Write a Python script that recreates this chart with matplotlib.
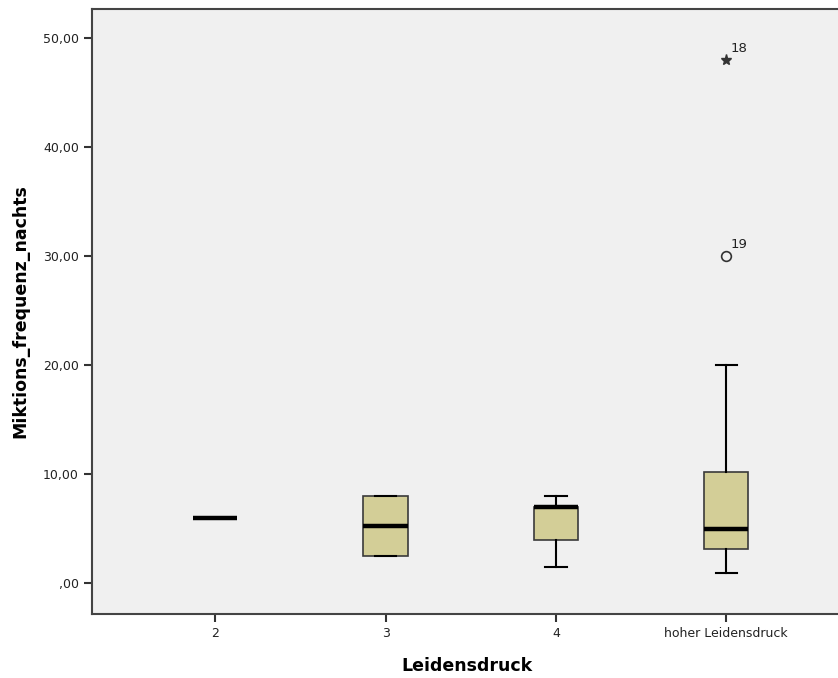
import matplotlib
matplotlib.use('Agg')
import matplotlib.pyplot as plt

# Kennwerte je Gruppe
gruppen = ['2', '3', '4', 'hoher Leidensdruck']
median = [6.0, 5.25, 7.0, 5.0]
q1 = [6.0, 2.5, 4.0, 3.2]
q3 = [6.0, 8.0, 7.0, 10.25]
whisker_unten = [6.0, 2.5, 1.5, 1.0]
whisker_oben = [6.0, 8.0, 8.0, 20.0]

# Ausreißer (Gruppe 4: hoher Leidensdruck)
ausreisser_gruppe = [4, 4]
ausreisser_wert = [48.0, 30.0]
ausreisser_fall = ['18', '19']
ausreisser_extrem = [True, False]

BOX_FARBE = '#D3CE97'
HINTERGRUND = '#F0F0F0'

fig = plt.figure(figsize=(8.38, 6.78), dpi=100)
ax = fig.add_axes([92 / 838, (678 - 614) / 678, (842 - 92) / 838, (614 - 9) / 678])
ax.set_facecolor(HINTERGRUND)

stats = []
for i, name in enumerate(gruppen):
    stats.append(dict(label=name, med=median[i], q1=q1[i], q3=q3[i],
                      whislo=whisker_unten[i], whishi=whisker_oben[i], fliers=[]))

pos = list(range(1, len(gruppen) + 1))
ax.bxp(stats, positions=pos, widths=0.26, patch_artist=True, showfliers=False,
       boxprops=dict(facecolor=BOX_FARBE, edgecolor='#3a3a3a', linewidth=1.2),
       medianprops=dict(color='black', linewidth=3.2, solid_capstyle='butt'),
       whiskerprops=dict(color='black', linewidth=1.5),
       capprops=dict(color='black', linewidth=1.5),
       capwidths=0.125)

for g, w, fall, extrem in zip(ausreisser_gruppe, ausreisser_wert,
                              ausreisser_fall, ausreisser_extrem):
    if extrem:
        ax.plot(g, w, marker='*', color='#333333', markersize=8, linestyle='none')
    else:
        ax.plot(g, w, marker='o', markerfacecolor='none', markeredgecolor='#333333',
                markeredgewidth=1.2, markersize=7, linestyle='none')
    ax.annotate(fall, (g, w), xytext=(3, 4), textcoords='offset points',
                fontsize=9.5, color='#222222', ha='left', va='bottom')

ax.set_xlim(0.276, 4.68)
ax.set_ylim(-2.8, 52.7)
ax.set_yticks([0, 10, 20, 30, 40, 50])
ax.set_yticklabels([',00', '10,00', '20,00', '30,00', '40,00', '50,00'])
ax.set_xticks(pos)
ax.set_xticklabels(gruppen)

ax.tick_params(axis='both', labelsize=9, colors='#333333', labelcolor='#222222',
               width=1.5, length=6)
for s in ax.spines.values():
    s.set_color('#444444')
    s.set_linewidth(1.5)

ax.set_xlabel('Leidensdruck', fontsize=12.5, fontweight='bold', labelpad=12)
ax.set_ylabel('Miktions_frequenz_nachts', fontsize=12.5, fontweight='bold', labelpad=10)

fig.savefig('out.png', dpi=100, facecolor='white')
